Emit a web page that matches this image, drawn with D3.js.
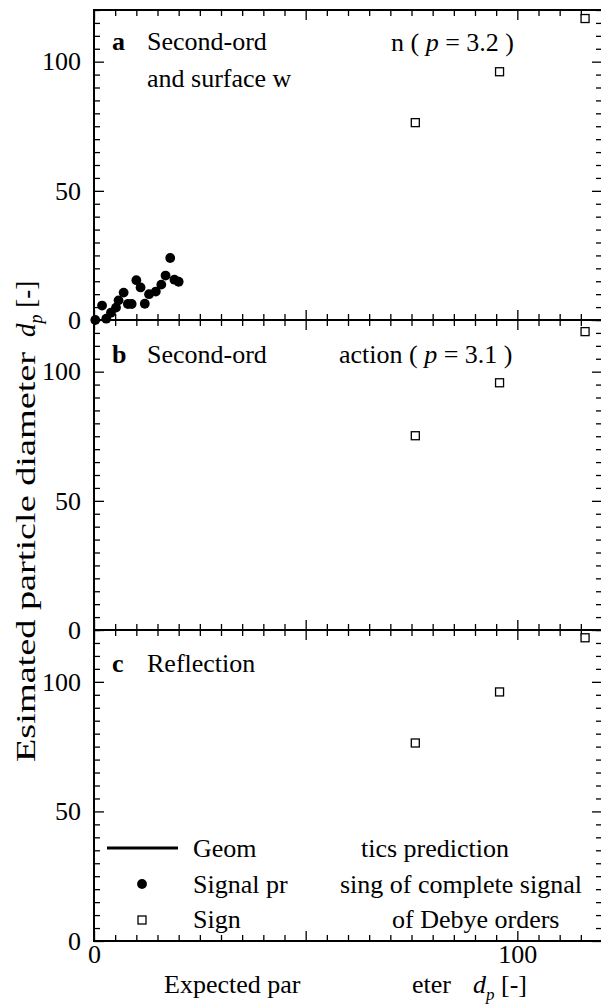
<!DOCTYPE html>
<html><head><meta charset="utf-8">
<script src="https://cdn.jsdelivr.net/npm/d3@7"></script>
<style>
body{margin:0;background:#fff;}
text{font-family:"Liberation Serif","Times New Roman",serif;fill:#000;}
</style></head>
<body>
<svg id="chart" width="601" height="1005"></svg>
<script>
// ---- data ----
const panelLetters = ["a", "b", "c"];
const xDomain = [0, 120];
const yDomain = [0, 120];
const yTickLabels = [0, 50, 100];
const xTickLabels = [0, 100];
const minorStep = 5;
const majorTicks = [0, 50, 100];
// Signal processing of complete signal (panel a)
const signalX = [0.3, 1.9, 2.9, 4.0, 5.2, 5.8, 7.0, 8.0, 8.9, 10.0, 11.0, 12.0, 13.0, 14.6, 15.9, 16.9, 18.0, 19.0, 20.0];
const signalY = [0.0, 5.6, 0.5, 2.8, 4.8, 7.6, 10.6, 6.2, 6.2, 15.4, 12.6, 6.3, 10.0, 11.0, 13.7, 17.2, 24.0, 15.6, 14.8];
// Signal processing of Debye orders
const debyeX = [75.9, 95.8, 116.0];
const debyeYa = [76.4, 96.1, 116.7];
const debyeYb = [75.2, 95.7, 115.5];
const debyeYc = [76.4, 96.1, 117.0];

const svg = d3.select("#chart");
const FS = 26;
const left = 94, right = 602;
const panelTops = [10, 320, 630];
const panelBottoms = [320, 630, 941];
const x = d3.scaleLinear().domain(xDomain).range([left, right]);
const minorVals = d3.range(0, 120 + 0.001, minorStep).filter(v => !majorTicks.includes(v));

const debyeY = [debyeYa, debyeYb, debyeYc];

panelLetters.forEach((letter, i) => {
  const top = panelTops[i], bottom = panelBottoms[i];
  const y = d3.scaleLinear().domain(yDomain).range([bottom, top]);
  const g = svg.append("g");

  const addAxis = (axisFn, scale, vals, size, transform) => {
    const a = g.append("g").attr("transform", transform)
      .call(axisFn(scale).tickValues(vals).tickSize(size).tickFormat(""));
    a.select(".domain").remove();
    a.selectAll("line").attr("stroke", "#000").attr("stroke-width", 1.3);
  };
  addAxis(d3.axisRight, y, minorVals, 6, `translate(${left},0)`);
  addAxis(d3.axisRight, y, majorTicks, 10, `translate(${left},0)`);
  addAxis(d3.axisLeft, y, minorVals, 6, `translate(${right},0)`);
  addAxis(d3.axisLeft, y, majorTicks, 10, `translate(${right},0)`);
  addAxis(d3.axisTop, x, minorVals, 6, `translate(0,${bottom})`);
  addAxis(d3.axisTop, x, majorTicks, 10, `translate(0,${bottom})`);
  addAxis(d3.axisBottom, x, minorVals, 6, `translate(0,${top})`);
  addAxis(d3.axisBottom, x, majorTicks, 10, `translate(0,${top})`);

  g.append("rect").attr("x", left).attr("y", top)
    .attr("width", right - left).attr("height", bottom - top)
    .attr("fill", "none").attr("stroke", "#000").attr("stroke-width", 2);

  const yl = g.append("g").attr("transform", `translate(${left},0)`)
    .call(d3.axisLeft(y).tickValues(yTickLabels).tickSize(0).tickPadding(13).tickFormat(d3.format("d")));
  yl.select(".domain").remove();
  yl.selectAll("text").style("font-size", FS + "px").style("font-family", "Liberation Serif");

  g.selectAll("rect.sq").data(debyeX.map((d, k) => [d, debyeY[i][k]])).enter()
    .append("rect").attr("class", "sq")
    .attr("x", d => x(d[0]) - 4).attr("y", d => y(d[1]) - 4)
    .attr("width", 8).attr("height", 8)
    .attr("fill", "#fff").attr("stroke", "#000").attr("stroke-width", 1.3);

  if (i === 0) {
    g.selectAll("circle.sig").data(signalX.map((d, k) => [d, signalY[k]])).enter()
      .append("circle").attr("class", "sig")
      .attr("cx", d => x(d[0])).attr("cy", d => y(d[1])).attr("r", 4.9)
      .attr("fill", "#000");
  }
});

const addText = (tx, ty, parts, opts = {}) => {
  const t = svg.append("text").attr("x", tx).attr("y", ty).style("font-size", FS + "px");
  if (opts.weight) t.style("font-weight", opts.weight);
  parts.forEach(p => {
    const s = t.append("tspan").text(p.t);
    if (p.i) s.style("font-style", "italic");
  });
  return t;
};
addText(112, 50, [{t: "a"}], {weight: "bold"});
addText(147, 50, [{t: "Second-ord"}]);
addText(147, 87, [{t: "and surface w"}]);
addText(391, 51, [{t: "n ( "}, {t: "p", i: true}, {t: " = 3.2 )"}]);

addText(112, 363, [{t: "b"}], {weight: "bold"});
addText(147, 363, [{t: "Second-ord"}]);
addText(339, 363, [{t: "action ( "}, {t: "p", i: true}, {t: " = 3.1 )"}]);

addText(112, 672, [{t: "c"}], {weight: "bold"});
addText(147, 672, [{t: "Reflection"}]);

// legend
svg.append("line").attr("x1", 107).attr("x2", 178).attr("y1", 848).attr("y2", 848)
  .attr("stroke", "#000").attr("stroke-width", 3);
addText(193, 857, [{t: "Geom"}]);
addText(361, 857, [{t: "tics prediction"}]);
svg.append("circle").attr("cx", 142).attr("cy", 884).attr("r", 4.9).attr("fill", "#000");
addText(193, 893, [{t: "Signal pr"}]);
addText(340, 893, [{t: "sing of complete signal"}]);
svg.append("rect").attr("x", 138).attr("y", 916).attr("width", 8).attr("height", 8)
  .attr("fill", "#fff").attr("stroke", "#000").attr("stroke-width", 1.3);
addText(193, 928, [{t: "Sign"}]);
addText(392, 928, [{t: "of Debye orders"}]);

// x tick labels
const xl = svg.append("g").attr("transform", `translate(0,${panelBottoms[2]})`)
  .call(d3.axisBottom(x).tickValues(xTickLabels).tickSize(0).tickPadding(4).tickFormat(d3.format("d")));
xl.select(".domain").remove();
xl.selectAll("text").style("font-size", FS + "px").style("font-family", "Liberation Serif");

// x axis title
addText(164, 993, [{t: "Expected par"}]);
const xt = svg.append("text").attr("y", 993).style("font-size", FS + "px");
xt.append("tspan").attr("x", 412).text("eter");
xt.append("tspan").attr("x", 473).text("d").style("font-style", "italic");
xt.append("tspan").text("p").style("font-style", "italic").style("font-size", "17px").attr("dy", 7);
xt.append("tspan").text(" [-]").attr("dy", -7);

// y axis title (rotated)
const yt = svg.append("text").attr("transform", "translate(35,762) rotate(-90)").style("font-size", "27px");
yt.append("tspan").attr("x", 0).attr("textLength", 410).attr("lengthAdjust", "spacingAndGlyphs")
  .text("Esimated particle diameter");
yt.append("tspan").attr("x", 425).text("d").style("font-style", "italic");
yt.append("tspan").text("p").style("font-style", "italic").style("font-size", "18px").attr("dy", 7);
yt.append("tspan").text(" [-]").attr("dy", -7);
</script>
</body></html>
